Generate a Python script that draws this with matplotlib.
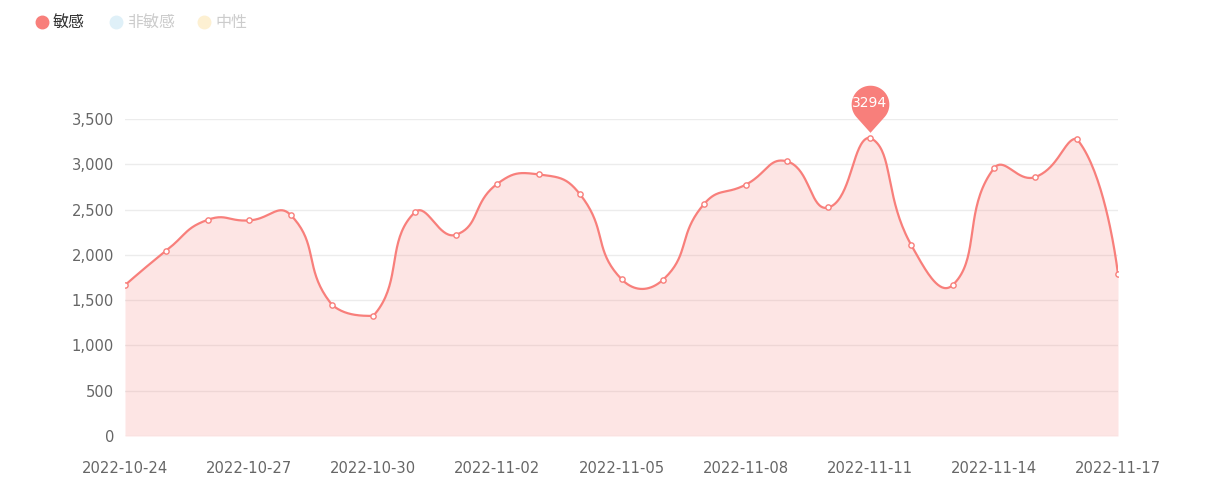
import matplotlib
matplotlib.use("Agg")
import matplotlib.pyplot as plt
import numpy as np
from matplotlib.path import Path

# data
dates = ["2022-10-24", "2022-10-25", "2022-10-26", "2022-10-27", "2022-10-28",
         "2022-10-29", "2022-10-30", "2022-10-31", "2022-11-01", "2022-11-02",
         "2022-11-03", "2022-11-04", "2022-11-05", "2022-11-06", "2022-11-07",
         "2022-11-08", "2022-11-09", "2022-11-10", "2022-11-11", "2022-11-12",
         "2022-11-13", "2022-11-14", "2022-11-15", "2022-11-16", "2022-11-17"]
sensitive = [1665, 2048, 2387, 2380, 2442, 1451, 1326, 2468, 2222, 2785,
             2888, 2667, 1732, 1724, 2564, 2774, 3032, 2523, 3294, 2111,
             1665, 2954, 2859, 3282, 1787]
legend_names = ["敏感", "非敏感", "中性"]
legend_colors = ["#f87f7b", "#dff0f8", "#fdf0d2"]
legend_text_colors = ["#333333", "#cccccc", "#cccccc"]
y_ticks = [0, 500, 1000, 1500, 2000, 2500, 3000, 3500]

line_color = "#f87f7b"

plt.rcParams['font.family'] = ['DejaVu Sans', 'Noto Sans CJK SC']

fig = plt.figure(figsize=(12.23, 4.95), dpi=100)
ax = fig.add_axes([125 / 1223, 1 - 436 / 495, (1118 - 125) / 1223, (436 - 119) / 495])
x = np.arange(len(dates))
ax.set_xlim(0, len(dates) - 1)
ax.set_ylim(0, 3500)

# smooth curve (bezier like echarts, in pixel space, clamped to the data bounding box)
pts = ax.transData.transform(np.column_stack([x, sensitive]))
smooth = 0.5
n = len(pts)
lo = pts.min(axis=0)
hi = pts.max(axis=0)
cp_in = pts.copy()
cp_out = pts.copy()
for i in range(1, n - 1):
    p = pts[i]
    prev = pts[i - 1]
    nxt = pts[i + 1]
    v = nxt - prev
    d0 = np.hypot(*(p - prev))
    d1 = np.hypot(*(nxt - p))
    r = d1 / (d0 + d1)
    cp_in[i] = np.clip(p - v * smooth * (1 - r), lo, hi)
    cp_out[i] = np.clip(p + v * smooth * r, lo, hi)

t = np.linspace(0, 1, 40)[:, None]
curve = [pts[:1]]
for i in range(n - 1):
    p0, p1, p2, p3 = pts[i], cp_out[i], cp_in[i + 1], pts[i + 1]
    seg = ((1 - t) ** 3) * p0 + 3 * ((1 - t) ** 2) * t * p1 + 3 * (1 - t) * t ** 2 * p2 + t ** 3 * p3
    curve.append(seg[1:])
curve = ax.transData.inverted().transform(np.vstack(curve))

ax.fill_between(curve[:, 0], curve[:, 1], 0, color=line_color, alpha=0.2, linewidth=0, zorder=2)
ax.plot(curve[:, 0], curve[:, 1], color=line_color, linewidth=1.6, zorder=3)
ax.plot(x, sensitive, linestyle='none', marker='o', markersize=3.8,
        markerfacecolor='white', markeredgecolor=line_color, markeredgewidth=1.0, zorder=4)

# pin at the max
imax = int(np.argmax(sensitive))
beta = np.arccos(1 / 1.5)
ang = np.linspace(-np.pi / 2 + beta, 3 * np.pi / 2 - beta, 60)
verts = [(0, 0.3)] + [(np.cos(a), 1.8 + np.sin(a)) for a in ang] + [(0, 0.3)]
codes = [Path.MOVETO] + [Path.LINETO] * (len(verts) - 2) + [Path.CLOSEPOLY]
pin = Path(verts, codes)
ax.plot(x[imax], sensitive[imax], marker=pin, markersize=76, color=line_color,
        markeredgewidth=0, linestyle='none', zorder=5, clip_on=False)
ax.annotate(str(sensitive[imax]), (x[imax], sensitive[imax]), xytext=(0, 24.7),
            textcoords='offset points', ha='center', va='center', color='white',
            fontsize=10, zorder=6, annotation_clip=False)

# axes styling
ax.set_yticks(y_ticks)
ax.set_yticklabels([f"{v:,}" for v in y_ticks])
ax.set_xticks(x[::3])
ax.set_xticklabels(dates[::3])
ax.tick_params(axis='both', length=0, labelsize=10.6, labelcolor='#666666')
ax.tick_params(axis='y', pad=8)
ax.tick_params(axis='x', pad=18)
for s in ax.spines.values():
    s.set_visible(False)
ax.grid(axis='y', color='#ececec', linewidth=1, zorder=1)
ax.set_axisbelow(True)

# legend
lx = [42, 116, 204]
for i, name in enumerate(legend_names):
    fig.add_artist(plt.Line2D([lx[i] / 1223], [1 - 22 / 495], marker='o', markersize=9,
                              color=legend_colors[i], linestyle='none', transform=fig.transFigure))
    fig.text((lx[i] + 11) / 1223, 1 - 22 / 495, name, ha='left', va='center',
             fontsize=11.5, color=legend_text_colors[i], family=['Noto Sans CJK SC', 'DejaVu Sans'])

fig.savefig("out.png", dpi=100)
